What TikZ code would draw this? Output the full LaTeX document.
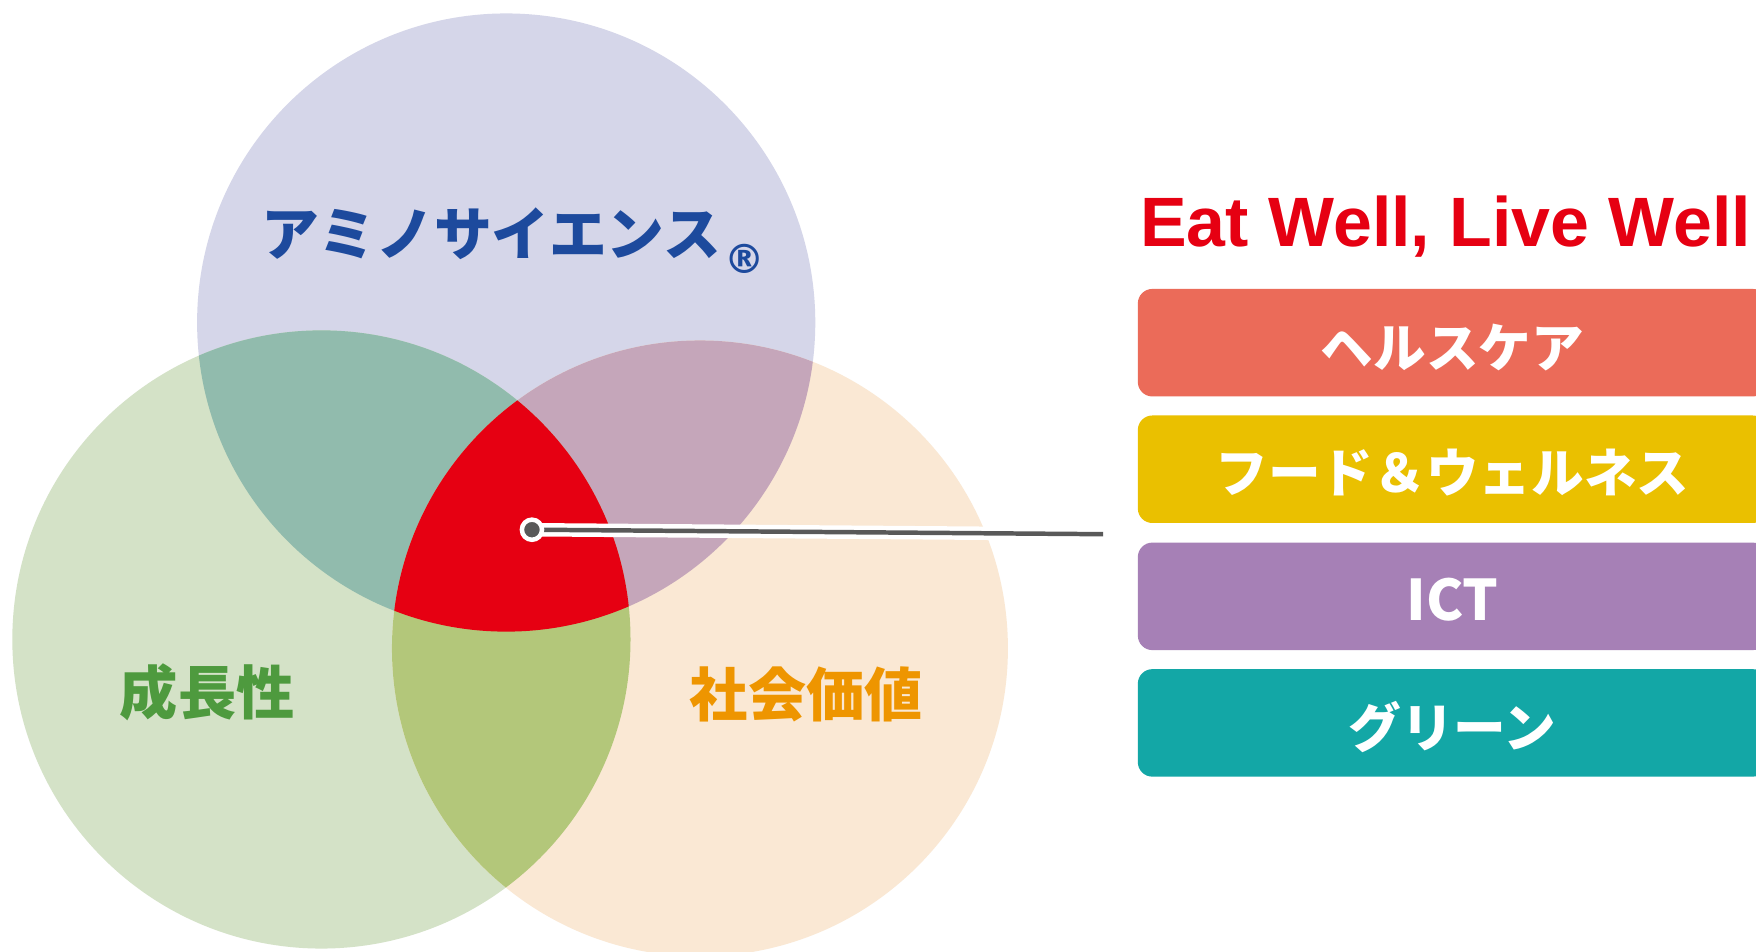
\documentclass[tikz,border=0pt]{standalone}
\usepackage{fontspec}
\newfontfamily\jp{Noto Sans CJK JP}
\newfontfamily\lat{Liberation Sans}
\newfontfamily\symf{DejaVu Sans}
\definecolor{cTop}{HTML}{D5D6E9}
\definecolor{cLeft}{HTML}{D4E2C7}
\definecolor{cRight}{HTML}{FAE8D4}
\definecolor{cTL}{HTML}{91BBAD}
\definecolor{cTR}{HTML}{C5A6BA}
\definecolor{cLR}{HTML}{B3C77A}
\definecolor{cCore}{HTML}{E60012}
\definecolor{tBlue}{HTML}{1D4A9D}
\definecolor{tGreen}{HTML}{4E9A3E}
\definecolor{tOrange}{HTML}{EE9500}
\definecolor{bx1}{HTML}{EB6B59}
\definecolor{bx2}{HTML}{EAC000}
\definecolor{bx3}{HTML}{A680B6}
\definecolor{bx4}{HTML}{13A7A6}
\definecolor{lineGray}{HTML}{595959}
\newcommand\cirT{(452,288) circle[radius=276]}
\newcommand\cirL{(287,571) circle[radius=276]}
\newcommand\cirR{(625,579) circle[radius=275]}
\tikzset{
  catlabel/.style={font=\jp\bfseries\fontsize{26pt}{30pt}\selectfont, inner sep=0pt},
  catbox/.style={rounded corners=6.5pt, minimum width=281pt, minimum height=48pt, inner sep=0pt},
  boxlabel/.style={inner sep=0pt, text=white, font=\jp\bfseries\fontsize{23.5pt}{28pt}\selectfont},
  dotmark/.style={circle, fill=lineGray, draw=white, line width=2pt, minimum size=9pt, inner sep=0pt}
}
\begin{document}
\begin{tikzpicture}[x=0.5pt,y=-0.5pt]
\clip (0,0) rectangle (1568,850);
\fill[white] (0,0) rectangle (1568,850);
% Venn circles
\fill[cTop] \cirT;
\fill[cLeft] \cirL;
\fill[cRight] \cirR;
\begin{scope}\clip \cirT; \fill[cTL] \cirL; \end{scope}
\begin{scope}\clip \cirT; \fill[cTR] \cirR; \end{scope}
\begin{scope}\clip \cirL; \fill[cLR] \cirR; \end{scope}
\begin{scope}\clip \cirT; \clip \cirL; \fill[cCore] \cirR; \end{scope}
% labels
\node[catlabel, text=tBlue, font=\jp\bfseries\fontsize{25.8pt}{30pt}\selectfont] (amino) at (439,209) {アミノサイエンス};
\node[inner sep=0pt, text=tBlue, font=\symf\bfseries\fontsize{18pt}{20pt}\selectfont] (reg) at (665,231) {®};
\node[catlabel, text=tGreen] (growth) at (185,618) {成長性};
\node[catlabel, text=tOrange] (social) at (720,620) {社会価値};
% connector
\coordinate (dotc) at (475,473);
\coordinate (lineend) at (985,477);
\draw[white, line width=6pt] (dotc) -- (lineend);
\draw[lineGray, line width=2pt] (dotc) -- (lineend);
\node[dotmark] (dot) at (dotc) {};
% title
\node[inner sep=0pt, anchor=base, text=cCore, font=\lat\bfseries\fontsize{31.2pt}{36pt}\selectfont] (title) at (1291,220) {Eat Well, Live Well};
% boxes
\node[catbox, fill=bx1] (b1) at (1297,306) {};
\node[catbox, fill=bx2] (b2) at (1297,419) {};
\node[catbox, fill=bx3] (b3) at (1297,532.5) {};
\node[catbox, fill=bx4] (b4) at (1297,645.5) {};
\node[boxlabel] (t1) at ([yshift=-2pt]b1.center) {ヘルスケア};
\node[boxlabel] (t2) at ([yshift=-1.5pt]b2.center) {フード＆ウェルネス};
\node[boxlabel, font=\jp\bfseries\fontsize{25pt}{28pt}\selectfont] (t3) at ([yshift=-1.5pt]b3.center) {ICT};
\node[boxlabel] (t4) at ([yshift=-2pt]b4.center) {グリーン};
\end{tikzpicture}
\end{document}
